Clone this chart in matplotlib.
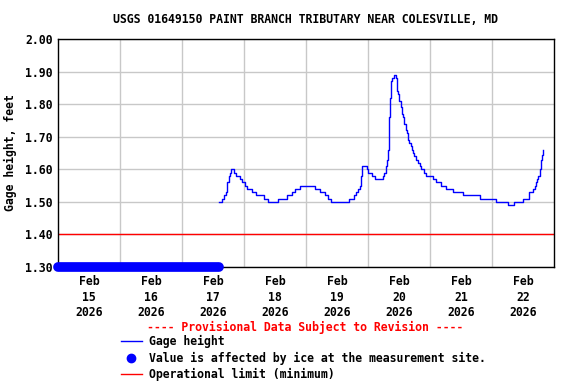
import matplotlib
matplotlib.use("Agg")
import matplotlib.pyplot as plt
from matplotlib.lines import Line2D

# hours since Feb 15 2026 00:00
gage_hours = [62.3, 63.6, 64.4, 65.2, 65.5, 66.1, 66.5, 66.8, 68.1, 68.8,
              70.6, 71.4, 72.3, 73.2, 75.0, 76.8, 79.7, 81.3, 85.2, 88.6,
              90.7, 91.6, 93.5, 99.3, 101.3, 103.2, 104.5, 105.8, 112.6, 114.4,
              115.5, 116.2, 117.0, 117.3, 117.5, 117.8, 119.7, 120.1, 121.4, 122.6,
              125.5, 125.8, 126.3, 126.8, 127.3, 127.7, 128.0, 128.2, 128.5, 128.9,
              129.4, 129.9, 130.4, 130.8, 131.2, 131.7, 132.1, 132.6, 133.1, 133.7,
              134.0, 134.6, 135.1, 135.5, 136.0, 136.5, 137.0, 137.4, 137.9, 138.5,
              139.0, 139.5, 140.1, 140.6, 141.5, 142.6, 143.9, 145.1, 146.2, 148.1,
              150.3, 152.9, 156.8, 163.2, 169.0, 169.7, 174.2, 176.5, 180.0, 182.2,
              183.8, 184.5, 185.1, 185.5, 185.9, 186.4, 186.8, 187.2, 187.6]
gage_feet = [1.50, 1.51, 1.52, 1.53, 1.56, 1.58, 1.59, 1.60, 1.59, 1.58,
             1.57, 1.56, 1.55, 1.54, 1.53, 1.52, 1.51, 1.50, 1.51, 1.52,
             1.53, 1.54, 1.55, 1.54, 1.53, 1.52, 1.51, 1.50, 1.51, 1.52,
             1.53, 1.54, 1.55, 1.58, 1.60, 1.61, 1.60, 1.59, 1.58, 1.57,
             1.57, 1.58, 1.59, 1.61, 1.63, 1.66, 1.70, 1.76, 1.82, 1.87,
             1.88, 1.89, 1.89, 1.88, 1.84, 1.83, 1.81, 1.79, 1.77, 1.76,
             1.74, 1.72, 1.71, 1.69, 1.68, 1.67, 1.66, 1.65, 1.64, 1.63,
             1.63, 1.62, 1.61, 1.60, 1.59, 1.58, 1.58, 1.57, 1.56, 1.55,
             1.54, 1.53, 1.52, 1.51, 1.51, 1.50, 1.49, 1.50, 1.51, 1.53,
             1.54, 1.55, 1.56, 1.57, 1.58, 1.60, 1.63, 1.645, 1.66]

ice_hours = [0.0, 62.3]
ice_feet = [1.30, 1.30]

op_limit = 1.40

day_labels = ["Feb\n15\n2026", "Feb\n16\n2026", "Feb\n17\n2026", "Feb\n18\n2026",
              "Feb\n19\n2026", "Feb\n20\n2026", "Feb\n21\n2026", "Feb\n22\n2026"]
y_ticks = [1.30, 1.40, 1.50, 1.60, 1.70, 1.80, 1.90, 2.00]

font = dict(family="DejaVu Sans Mono", weight="bold", size=8.3)

fig = plt.figure(figsize=(5.76, 3.84), dpi=100)
ax = fig.add_axes([0.1007, 0.3047, 0.8611, 0.5937])

ax.set_xlim(0, 192)
ax.set_ylim(1.30, 2.00)

ax.set_xticks([24 * i for i in range(1, 8)], minor=True)
ax.set_xticks([12 + 24 * i for i in range(8)])
ax.set_xticklabels(day_labels, **font, linespacing=1.25)
ax.set_yticks(y_ticks)
ax.set_yticklabels(["%.2f" % v for v in y_ticks], **font)
ax.tick_params(which="both", length=0, pad=4)
ax.tick_params(axis="x", pad=6)
ax.grid(True, which="minor", axis="x", color="#c8c8c8", linewidth=1)
ax.grid(True, which="major", axis="y", color="#c8c8c8", linewidth=1)
ax.set_axisbelow(True)
for s in ax.spines.values():
    s.set_linewidth(1)
    s.set_color("black")

ax.axhline(op_limit, color="red", linewidth=1)
ax.plot(ice_hours, ice_feet, color="blue", linewidth=7, solid_capstyle="round",
        clip_on=False, zorder=3)
ax.plot(gage_hours, gage_feet, color="blue", linewidth=1, drawstyle="steps-post", zorder=4)

ax.set_ylabel("Gage height, feet", **font, labelpad=6)
fig.text(0.53, 0.948, "USGS 01649150 PAINT BRANCH TRIBUTARY NEAR COLESVILLE, MD",
         ha="center", va="center", **font)

fig.text(0.53, 1 - 327 / 384, "---- Provisional Data Subject to Revision ----",
         ha="center", va="center", color="red", **font)

handles = [Line2D([], [], color="blue", linewidth=1),
           Line2D([], [], color="blue", linestyle="none", marker="o", markersize=6),
           Line2D([], [], color="red", linewidth=1)]
labels = ["Gage height", "Value is affected by ice at the measurement site.",
          "Operational limit (minimum)"]
fig.legend(handles, labels, loc="upper left", bbox_to_anchor=(0.21, 1 - 335 / 384),
           frameon=False, prop=dict(family="DejaVu Sans Mono", weight="bold", size=8.3),
           handlelength=1.8, handletextpad=0.6, labelspacing=0.3, borderpad=0,
           borderaxespad=0)

fig.savefig("out.png", dpi=100)
